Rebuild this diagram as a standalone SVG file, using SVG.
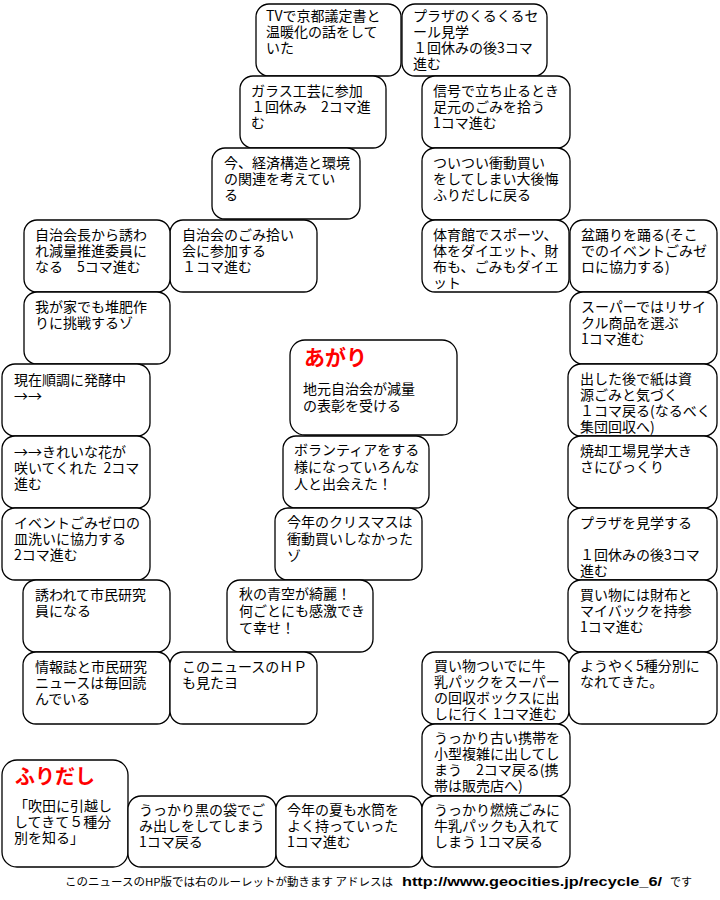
<svg xmlns="http://www.w3.org/2000/svg" width="720" height="900" viewBox="0 0 720 900">
<style>
.box{fill:#fff;stroke:#000;stroke-width:1.3}
.t{font-family:"Noto Sans CJK JP","Noto Sans CJK SC",sans-serif;font-size:14px;fill:#000}
.h{font-family:"Noto Sans CJK JP","Noto Sans CJK SC",sans-serif;font-weight:bold;fill:#ff0000}
.f{font-family:"Noto Sans CJK JP","Noto Sans CJK SC",sans-serif;font-size:11px;fill:#000}
.u{font-family:"Liberation Sans",Arial,sans-serif;font-weight:bold;font-size:13px;fill:#000}
</style>
<rect width="720" height="900" fill="#fff"/>
<g id="connectors"></g>

<g id="n1"><rect class="box" x="256" y="4" width="145" height="72" rx="13"/>
<text class="t" x="266" y="21"><tspan x="266">TVで京都議定書と</tspan><tspan x="266" dy="16">温暖化の話をして</tspan><tspan x="266" dy="16">いた</tspan></text></g>

<g id="n2"><rect class="box" x="402" y="4" width="145" height="72" rx="13"/>
<text class="t" x="413" y="21"><tspan x="413">プラザのくるくるセ</tspan><tspan x="413" dy="16">ール見学</tspan><tspan x="413" dy="16">１回休みの後3コマ</tspan><tspan x="413" dy="16">進む</tspan></text></g>

<g id="n3"><rect class="box" x="240" y="76" width="146" height="72" rx="13"/>
<text class="t" x="251" y="96"><tspan x="251">ガラス工芸に参加</tspan><tspan x="251" dy="16">１回休み　2コマ進</tspan><tspan x="251" dy="16">む</tspan></text></g>

<g id="n4"><rect class="box" x="422" y="76" width="148" height="72" rx="13"/>
<text class="t" x="433" y="96"><tspan x="433">信号で立ち止るとき</tspan><tspan x="433" dy="16">足元のごみを拾う</tspan><tspan x="433" dy="16">1コマ進む</tspan></text></g>

<g id="n5"><rect class="box" x="212" y="148" width="148" height="71" rx="13"/>
<text class="t" x="224" y="168"><tspan x="224">今、経済構造と環境</tspan><tspan x="224" dy="16">の関連を考えてい</tspan><tspan x="224" dy="16">る</tspan></text></g>

<g id="n6"><rect class="box" x="422" y="148" width="148" height="72" rx="13"/>
<text class="t" x="433" y="168"><tspan x="433">ついつい衝動買い</tspan><tspan x="433" dy="16">をしてしまい大後悔</tspan><tspan x="433" dy="16">ふりだしに戻る</tspan></text></g>

<g id="n7"><rect class="box" x="170" y="220" width="147" height="72" rx="13"/>
<text class="t" x="182" y="240"><tspan x="182">自治会のごみ拾い</tspan><tspan x="182" dy="16">会に参加する</tspan><tspan x="182" dy="16">１コマ進む</tspan></text></g>

<g id="n8"><rect class="box" x="24" y="220" width="146" height="72" rx="13"/>
<text class="t" x="35" y="240"><tspan x="35">自治会長から誘わ</tspan><tspan x="35" dy="16">れ減量推進委員に</tspan><tspan x="35" dy="16">なる　5コマ進む</tspan></text></g>

<g id="n9"><rect class="box" x="24" y="292" width="146" height="72" rx="13"/>
<text class="t" x="35" y="312"><tspan x="35">我が家でも堆肥作</tspan><tspan x="35" dy="16">りに挑戦するゾ</tspan></text></g>

<g id="n10"><rect class="box" x="422" y="220" width="147" height="72" rx="13"/>
<text class="t" x="433" y="240"><tspan x="433">体育館でスポーツ、</tspan><tspan x="433" dy="16">体をダイエット、財</tspan><tspan x="433" dy="16">布も、ごみもダイエ</tspan><tspan x="433" dy="16">ット</tspan></text></g>

<g id="n11"><rect class="box" x="570" y="220" width="147" height="72" rx="13"/>
<text class="t" x="581" y="240"><tspan x="581">盆踊りを踊る(そこ</tspan><tspan x="581" dy="16">でのイベントごみゼ</tspan><tspan x="581" dy="16">ロに協力する)</tspan></text></g>

<g id="n12"><rect class="box" x="570" y="292" width="147" height="72" rx="13"/>
<text class="t" x="581" y="312"><tspan x="581">スーパーではリサイ</tspan><tspan x="581" dy="16">クル商品を選ぶ</tspan><tspan x="581" dy="16">1コマ進む</tspan></text></g>

<g id="n13"><rect class="box" x="2" y="364" width="148" height="72" rx="13"/>
<text class="t" x="14" y="385"><tspan x="14">現在順調に発酵中</tspan><tspan x="14" dy="16">→→</tspan></text></g>

<g id="n14"><rect class="box" x="2" y="436" width="148" height="72" rx="13"/>
<text class="t" x="14" y="457"><tspan x="14">→→きれいな花が</tspan><tspan x="14" dy="16">咲いてくれた&#160;&#160;2コマ</tspan><tspan x="14" dy="16">進む</tspan></text></g>

<g id="n15"><rect class="box" x="2" y="508" width="148" height="72" rx="13"/>
<text class="t" x="14" y="528"><tspan x="14">イベントごみゼロの</tspan><tspan x="14" dy="16">皿洗いに協力する</tspan><tspan x="14" dy="16">2コマ進む</tspan></text></g>

<g id="n16"><rect class="box" x="568" y="364" width="149" height="72" rx="13"/>
<text class="t" x="580" y="384"><tspan x="580">出した後で紙は資</tspan><tspan x="580" dy="16">源ごみと気づく</tspan><tspan x="580" dy="16">１コマ戻る(なるべく</tspan><tspan x="580" dy="16">集団回収へ)</tspan></text></g>

<g id="n17"><rect class="box" x="568" y="436" width="149" height="72" rx="13"/>
<text class="t" x="580" y="456"><tspan x="580">焼却工場見学大き</tspan><tspan x="580" dy="16">さにびっくり</tspan></text></g>

<g id="n18"><rect class="box" x="568" y="508" width="149" height="72" rx="13"/>
<text class="t" x="580" y="528"><tspan x="580">プラザを見学する</tspan><tspan x="580" dy="32">１回休みの後3コマ</tspan><tspan x="580" dy="16">進む</tspan></text></g>

<g id="n19"><rect class="box" x="290" y="340" width="167" height="95" rx="15"/>
<text class="h" x="304" y="365" font-size="21">あがり</text>
<text class="t" x="303" y="394"><tspan x="303">地元自治会が減量</tspan><tspan x="303" dy="17">の表彰を受ける</tspan></text></g>

<g id="n20"><rect class="box" x="283" y="436" width="146" height="72" rx="13"/>
<text class="t" x="294" y="455"><tspan x="294">ボランティアをする</tspan><tspan x="294" dy="17">様になっていろんな</tspan><tspan x="294" dy="17">人と出会えた！</tspan></text></g>

<g id="n21"><rect class="box" x="275" y="508" width="147" height="72" rx="13"/>
<text class="t" x="287" y="527"><tspan x="287">今年のクリスマスは</tspan><tspan x="287" dy="17">衝動買いしなかった</tspan><tspan x="287" dy="17">ゾ</tspan></text></g>

<g id="n22"><rect class="box" x="227" y="580" width="146" height="72" rx="13"/>
<text class="t" x="239" y="599"><tspan x="239">秋の青空が綺麗！</tspan><tspan x="239" dy="17">何ごとにも感激でき</tspan><tspan x="239" dy="17">て幸せ！</tspan></text></g>

<g id="n23"><rect class="box" x="23" y="580" width="147" height="72" rx="13"/>
<text class="t" x="35" y="600"><tspan x="35">誘われて市民研究</tspan><tspan x="35" dy="16">員になる</tspan></text></g>

<g id="n24"><rect class="box" x="23" y="652" width="147" height="72" rx="13"/>
<text class="t" x="35" y="672"><tspan x="35">情報誌と市民研究</tspan><tspan x="35" dy="16">ニュースは毎回読</tspan><tspan x="35" dy="16">んでいる</tspan></text></g>

<g id="n25"><rect class="box" x="170" y="652" width="147" height="72" rx="13"/>
<text class="t" x="182" y="672"><tspan x="182">このニュースのＨＰ</tspan><tspan x="182" dy="16">も見たヨ</tspan></text></g>

<g id="n26"><rect class="box" x="568" y="580" width="149" height="72" rx="13"/>
<text class="t" x="580" y="600"><tspan x="580">買い物には財布と</tspan><tspan x="580" dy="16">マイバックを持参</tspan><tspan x="580" dy="16">1コマ進む</tspan></text></g>

<g id="n27"><rect class="box" x="422" y="652" width="147" height="72" rx="13"/>
<text class="t" x="434" y="671"><tspan x="434">買い物ついでに牛</tspan><tspan x="434" dy="16">乳パックをスーパー</tspan><tspan x="434" dy="16">の回収ボックスに出</tspan><tspan x="434" dy="16">しに行く 1コマ進む</tspan></text></g>

<g id="n28"><rect class="box" x="569" y="652" width="148" height="72" rx="13"/>
<text class="t" x="580" y="671"><tspan x="580">ようやく5種分別に</tspan><tspan x="580" dy="16">なれてきた。</tspan></text></g>

<g id="n29"><rect class="box" x="422" y="724" width="148" height="72" rx="13"/>
<text class="t" x="434" y="743"><tspan x="434">うっかり古い携帯を</tspan><tspan x="434" dy="16">小型複雑に出してし</tspan><tspan x="434" dy="16">まう　2コマ戻る(携</tspan><tspan x="434" dy="16">帯は販売店へ)</tspan></text></g>

<g id="n30"><rect class="box" x="2" y="760" width="126" height="107" rx="15"/>
<text class="h" x="15" y="784" font-size="20">ふりだし</text>
<text class="t" x="14" y="811"><tspan x="14">「吹田に引越し</tspan><tspan x="14" dy="16">してきて５種分</tspan><tspan x="14" dy="16">別を知る」</tspan></text></g>

<g id="n31"><rect class="box" x="128" y="796" width="148" height="71" rx="13"/>
<text class="t" x="139" y="815"><tspan x="139">うっかり黒の袋でご</tspan><tspan x="139" dy="16">み出しをしてしまう</tspan><tspan x="139" dy="16">1コマ戻る</tspan></text></g>

<g id="n32"><rect class="box" x="276" y="796" width="146" height="71" rx="13"/>
<text class="t" x="287" y="815"><tspan x="287">今年の夏も水筒を</tspan><tspan x="287" dy="16">よく持っていった</tspan><tspan x="287" dy="16">1コマ進む</tspan></text></g>

<g id="n33"><rect class="box" x="422" y="796" width="148" height="71" rx="13"/>
<text class="t" x="434" y="815"><tspan x="434">うっかり燃焼ごみに</tspan><tspan x="434" dy="16">牛乳パックも入れて</tspan><tspan x="434" dy="16">しまう 1コマ戻る</tspan></text></g>

<g id="footer">
<text class="f" x="65" y="886" textLength="328" lengthAdjust="spacingAndGlyphs">このニュースのHP版では右のルーレットが動きます アドレスは</text>
<text class="u" x="402" y="886" textLength="260" lengthAdjust="spacingAndGlyphs">http://www.geocities.jp/recycle_6/</text>
<text class="f" x="670" y="886">です</text>
</g>
</svg>
